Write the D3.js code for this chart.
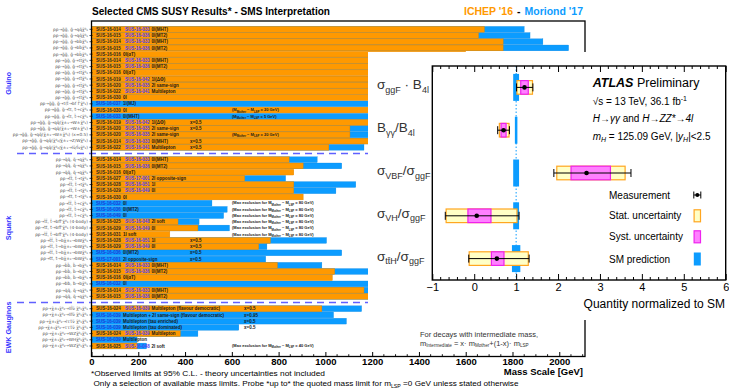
<!DOCTYPE html>
<html><head><meta charset="utf-8">
<script src="https://cdn.jsdelivr.net/npm/d3@7"></script>
<style>body{margin:0;background:#fff}svg{display:block;font-family:"Liberation Sans",Arial,Helvetica,sans-serif}</style>
</head><body><svg id="c" width="729" height="388"></svg>
<script>
// ---------------- CMS data ----------------
const sectionNames = ["Gluino", "Squark", "EWK Gauginos"];
const massTicks = [0,200,400,600,800,1000,1200,1400,1600,1800,2000];

const gluinoProc = [
 "pp→g̃g̃, g̃→qq̄χ̃⁰₁","pp→g̃g̃, g̃→qq̄χ̃⁰₁",
 "pp→g̃g̃, g̃→bb̄χ̃⁰₁","pp→g̃g̃, g̃→bb̄χ̃⁰₁","pp→g̃g̃, g̃→bb̄χ̃⁰₁",
 "pp→g̃g̃, g̃→tt̄χ̃⁰₁","pp→g̃g̃, g̃→tt̄χ̃⁰₁","pp→g̃g̃, g̃→tt̄χ̃⁰₁",
 "pp→g̃g̃, g̃→tt̄χ̃⁰₁","pp→g̃g̃, g̃→tt̄χ̃⁰₁","pp→g̃g̃, g̃→tt̄χ̃⁰₁",
 "pp→g̃g̃, g̃→tt̄χ̃⁰₁","pp→g̃g̃, g̃→t(t̃→bf f̄'χ̃⁰₁)",
 "pp→g̃g̃, g̃→t̃t, t̃→cχ̃⁰₁","pp→g̃g̃, g̃→t̃t, t̃→cχ̃⁰₁",
 "pp→g̃g̃, g̃→qq̄(χ̃±₁→W±χ̃⁰₁)","pp→g̃g̃, g̃→qq̄(χ̃±₁→W±χ̃⁰₁)",
 "pp→g̃g̃, g̃→qq̄(χ̃±₁→W±χ̃⁰₁) (x=0.5)",
 "pp→g̃g̃, g̃→qq̄(χ̃⁰₂/χ̃±₁→Z/Wχ̃⁰₁)","pp→g̃g̃, g̃→qq̄(χ̃⁰₂/χ̃±₁→lν̃/l̃νχ̃⁰₁)"
];
const gluinoCode1 = ["SUS-16-014","SUS-16-015","SUS-16-014","SUS-16-015","SUS-16-016","SUS-16-014","SUS-16-015","SUS-16-016","SUS-16-019","SUS-16-020","SUS-16-022","SUS-16-030","SUS-16-037","SUS-16-030","SUS-16-033","SUS-16-019","SUS-16-020","SUS-16-020","SUS-16-014","SUS-16-022"];
const gluinoCode2 = ["SUS-16-033","SUS-16-036","SUS-16-033","SUS-16-036","","SUS-16-033","SUS-16-036","","SUS-16-042","SUS-16-035","SUS-16-041","","","","","SUS-16-042","SUS-16-035","SUS-16-035","SUS-16-033","SUS-16-041"];
const gluinoDesc = ["0l(MHT)","0l(MT2)","0l(MHT)","0l(MT2)","0l(αT)","0l(MHT)","0l(MT2)","0l(αT)","1l(ΔΦ)","2l same-sign","Multilepton","0l","1l(MJ)","0l","0l(MHT)","1l(ΔΦ)","2l same-sign","2l same-sign","0l(MHT)","Multilepton"];
const gluinoNote = ["","","","","","","","","","","","","","dm:20","dm:5","x=0.5","x=0.5","dm:20","x=0.5","x=0.5"];
const gluinoIchep   = [1680,1655,1760,1760,1600,1760,1690,1650,1650,1300,1300,1600,null,1300,null,1500,1105,1105,1600,1015];
const gluinoMoriond = [1850,1875,1930,2040,null,1960,1960,null,1800,1500,1600,null,1900,null,1600,1700,1300,1250,1800,1165];

const squarkProc = [
 "pp→q̃q̃, q̃→qχ̃⁰₁","pp→q̃q̃, q̃→qχ̃⁰₁","pp→q̃q̃, q̃→qχ̃⁰₁",
 "pp→t̃t̃, t̃→tχ̃⁰₁","pp→t̃t̃, t̃→tχ̃⁰₁","pp→t̃t̃, t̃→tχ̃⁰₁","pp→t̃t̃, t̃→tχ̃⁰₁",
 "pp→t̃t̃, t̃→cχ̃⁰₁","pp→t̃t̃, t̃→cχ̃⁰₁","pp→t̃t̃, t̃→cχ̃⁰₁",
 "pp→t̃t̃, t̃→bff̄'χ̃⁰₁ (4-body)","pp→t̃t̃, t̃→bff̄'χ̃⁰₁ (4-body)","pp→t̃t̃, t̃→bff̄'χ̃⁰₁ (4-body)",
 "pp→t̃t̃, t̃→bχ̃±₁→bWχ̃⁰₁","pp→t̃t̃, t̃→bχ̃±₁→bWχ̃⁰₁","pp→t̃t̃, t̃→bχ̃±₁→bWχ̃⁰₁","pp→t̃t̃, t̃→bχ̃±₁→bWχ̃⁰₁",
 "pp→b̃b̃, b̃→bχ̃⁰₁","pp→b̃b̃, b̃→bχ̃⁰₁","pp→b̃b̃, b̃→bχ̃⁰₁","pp→b̃b̃, b̃→bχ̃⁰₁",
 "pp→q̃q̃, q̃→qχ̃⁰₁","pp→q̃q̃, q̃→qχ̃⁰₁"
];
const squarkCode1 = ["SUS-16-014","SUS-16-015","SUS-16-016","SUS-16-027","SUS-16-028","SUS-16-029","SUS-16-030","SUS-16-032","SUS-16-036","SUS-16-049","SUS-16-025","SUS-16-029","SUS-16-031","SUS-16-028","SUS-16-029","SUS-16-036","SUS-17-001","SUS-16-014","SUS-16-015","SUS-16-016","SUS-16-032","SUS-16-014","SUS-16-015"];
const squarkCode2 = ["SUS-16-033","SUS-16-036","","SUS-17-001","SUS-16-051","SUS-16-049","","","","","SUS-16-048","SUS-16-049","","SUS-16-051","SUS-16-049","","","SUS-16-033","SUS-16-036","","","SUS-16-033","SUS-16-036"];
const squarkDesc = ["0l(MHT)","0l(MT2)","0l(αT)","2l opposite-sign","1l","0l","0l","0l","0l(MT2)","0l","2l soft","0l","1l soft","1l","0l","0l(MT2)","2l opposite-sign","0l(MHT)","0l(MT2)","0l(αT)","0l","0l(MHT)","0l(MT2)"];
const squarkNote = ["","","","","","","","max:80","max:80","max:80","max:80","max:80","max:80","x=0.5","x=0.5","x=0.5","x=0.5","","","","","",""];
const squarkIchep   = [845,905,865,655,865,865,905,null,null,null,370,455,335,765,715,null,null,795,1040,1030,null,1165,1250];
const squarkMoriond = [965,1070,null,830,1130,1045,null,515,580,565,460,590,null,1005,750,1070,745,985,1250,null,1300,1300,1400];

const ewkProc = [
 "pp→χ̃±₁χ̃⁰₂→lll̃ν̃ χ̃⁰₁χ̃⁰₁","pp→χ̃±₁χ̃⁰₂→lll̃ν̃ χ̃⁰₁χ̃⁰₁","pp→χ̃±₁χ̃⁰₂→lττ̃ν̃ χ̃⁰₁χ̃⁰₁",
 "pp→χ̃±₁χ̃⁰₂→τττ̃ν̃ χ̃⁰₁χ̃⁰₁","pp→χ̃±₁χ̃⁰₂→WZχ̃⁰₁χ̃⁰₁","pp→χ̃±₁χ̃⁰₂→WHχ̃⁰₁χ̃⁰₁","pp→χ̃±₁χ̃⁰₂→WZχ̃⁰₁χ̃⁰₁"
];
const ewkCode1 = ["SUS-16-024","SUS-16-039","SUS-16-039","SUS-16-039","SUS-16-024","SUS-16-039","SUS-16-025"];
const ewkCode2 = ["SUS-16-039","","","","SUS-16-039","","SUS-16-048"];
const ewkDesc = ["Multilepton (flavour democratic)","Multilepton + 2l same-sign (flavour democratic)","Multilepton (tau enriched)","Multilepton (tau dominated)","Multilepton","Multilepton","2l soft"];
const ewkNote = ["x=0.5","x=0.95","x=0.5","x=0.5","","","max:40"];
const ewkIchep   = [985,null,null,null,380,null,195];
const ewkMoriond = [1155,1035,1090,630,455,195,235];

// ---------------- ATLAS data ----------------
const atlasLabels = [
 [["σ"],["ggF",1],[" · B"],["4l",1]],
 [["B"],["γγ",1],["/B"],["4l",1]],
 [["σ"],["VBF",1],["/σ"],["ggF",1]],
 [["σ"],["VH",1],["/σ"],["ggF",1]],
 [["σ"],["tt̄H",1],["/σ"],["ggF",1]]
];
const atlasValue   = [1.20, 0.70, 2.68, 0.06, 0.54];
const atlasTotalLo = [1.01, 0.56, 1.90, -0.69, -0.13];
const atlasTotalHi = [1.40, 0.84, 3.74, 1.07, 1.31];
const atlasStatLo  = [1.02, 0.60, 1.97, -0.67, -0.12];
const atlasStatHi  = [1.39, 0.83, 3.60, 1.02, 1.29];
const atlasSystLo  = [1.11, 0.64, 2.31, -0.15, 0.41];
const atlasSystHi  = [1.29, 0.76, 3.25, 0.40, 0.71];
const atlasSM      = [1, 1, 1, 1, 1];
const atlasSMUnc   = [0.07, 0.03, 0.07, 0.07, 0.10];
const atlasTicks   = [-1,0,1,2,3,4,5,6];

// ---------------- build rows ----------------
const ORANGE = "#ff9900", BLUE = "#0c9cff", CODE2 = "#4a3cf0", CODEB = "#1f3bd6";
const rows = [];
function addSection(sec, proc, c1, c2, desc, note, ich, mor) {
  proc.forEach((p, i) => rows.push({sec, proc: p, c1: c1[i], c2: c2[i], desc: desc[i], note: note[i], ichep: ich[i], moriond: mor[i]}));
}
addSection(0, gluinoProc, gluinoCode1, gluinoCode2, gluinoDesc, gluinoNote, gluinoIchep, gluinoMoriond);
rows.push({gap: true});
addSection(1, squarkProc, squarkCode1, squarkCode2, squarkDesc, squarkNote, squarkIchep, squarkMoriond);
rows.push({gap: true});
addSection(2, ewkProc, ewkCode1, ewkCode2, ewkDesc, ewkNote, ewkIchep, ewkMoriond);
rows.forEach((r, i) => r.slot = i);
const dataRows = rows.filter(r => !r.gap);

const svg = d3.select("#c");
const x = d3.scaleLinear().domain([0, 2110]).range([91.5, 585]);
const y = d3.scaleBand().domain(rows.map(r => r.slot)).range([26.2, 349.1]).padding(0);
const bw = y.bandwidth();
const cy = s => y(s) + bw / 2;

function rich(sel, parts, size, subSize, shift) {
  let off = 0;
  parts.forEach(p => {
    const isSub = p[1] === 1;
    const t = sel.append("tspan").text(p[0]).attr("font-size", isSub ? subSize : size);
    const target = isSub ? shift : 0;
    if (target !== off) { t.attr("dy", target - off); off = target; }
    if (p[2]) t.attr("font-style", "italic");
  });
  return sel;
}

// bars
const gB = svg.append("g");
gB.selectAll("rect.m").data(dataRows.filter(r => r.moriond != null)).join("rect")
  .attr("x", x(0)).attr("y", r => y(r.slot) + 0.2).attr("height", bw - 0.4)
  .attr("width", r => x(r.moriond) - x(0)).attr("fill", BLUE)
  .attr("stroke", "#0a86dc").attr("stroke-width", 0.3);
gB.selectAll("rect.i").data(dataRows.filter(r => r.ichep != null)).join("rect")
  .attr("x", x(0)).attr("y", r => y(r.slot) + 0.2).attr("height", bw - 0.4)
  .attr("width", r => x(r.ichep) - x(0)).attr("fill", ORANGE)
  .attr("stroke", "#d98300").attr("stroke-width", 0.35);

// bar texts
const gT = svg.append("g").attr("font-weight", "bold").attr("font-size", 4.5);
dataRows.forEach(r => {
  const yy = cy(r.slot) + 1.6;
  gT.append("text").attr("x", 96).attr("y", yy).attr("fill", r.ichep != null ? "#2a2a2a" : CODEB).text(r.c1);
  if (r.c2) gT.append("text").attr("x", 125).attr("y", yy).attr("fill", CODE2).text(r.c2);
  gT.append("text").attr("x", r.c2 ? 151.5 : 123).attr("y", yy).attr("fill", "#1a1a1a").text(r.desc);
  if (r.note) {
    if (r.note.startsWith("x")) {
      gT.append("text").attr("x", r.sec === 2 ? 244 : 190).attr("y", yy).attr("fill", "#1a1a1a").text(r.note);
    } else {
      const [k, v] = r.note.split(":");
      const t = gT.append("text").attr("x", 232).attr("y", yy - 0.3).attr("fill", "#1a1a1a").attr("font-size", 4);
      const pre = k === "max" ? "(Max exclusion for M" : "(M";
      rich(t, [[pre], ["Mother", 1], [" − M"], ["LSP", 1], [" = " + v + " GeV)"]], 4, 2.8, 1.2);
    }
  }
});

// left process labels and row ticks
const gL = svg.append("g");
gL.selectAll("text").data(dataRows).join("text")
  .attr("x", 88).attr("y", r => cy(r.slot) + 1.4).attr("text-anchor", "end")
  .attr("font-size", 4.3).attr("fill", "#555").attr("font-family", "DejaVu Sans").text(r => r.proc);
gL.selectAll("line").data(dataRows).join("line")
  .attr("x1", 89.5).attr("x2", 92.5).attr("y1", r => cy(r.slot)).attr("y2", r => cy(r.slot))
  .attr("stroke", "#000").attr("stroke-width", 0.7);

// section labels
const secMid = [0, 1, 2].map(s => { const rs = dataRows.filter(r => r.sec === s); return (cy(rs[0].slot) + cy(rs[rs.length - 1].slot)) / 2; });
svg.selectAll("text.sec").data(sectionNames).join("text").attr("class", "sec")
  .attr("transform", (d, i) => `translate(10.5,${secMid[i] - (i === 0 ? 5 : 0)}) rotate(-90)`)
  .attr("text-anchor", "middle").attr("font-size", 7.2).attr("font-weight", "bold").attr("fill", "#3535ff").text(d => d);

// dashed separators
svg.selectAll("line.sep").data(rows.filter(r => r.gap)).join("line").attr("class", "sep")
  .attr("x1", 17).attr("x2", 585).attr("y1", r => cy(r.slot)).attr("y2", r => cy(r.slot))
  .attr("stroke", "#6060ff").attr("stroke-width", 1.6).attr("stroke-dasharray", "7,5");

// frame
svg.append("rect").attr("x", 91.5).attr("y", 21).attr("width", 585 - 91.5).attr("height", 356.5 - 21)
  .attr("fill", "none").attr("stroke", "#000").attr("stroke-width", 1.3);

// x axis
const ax = svg.append("g").attr("transform", "translate(0,356.5)")
  .call(d3.axisBottom(x).tickValues(massTicks).tickSize(-4.5).tickPadding(2.2).tickFormat(d3.format("d")));
ax.select(".domain").remove();
ax.selectAll("text").attr("font-size", 9.5).attr("font-weight", "bold").attr("font-family", "Liberation Sans, Arial, sans-serif").attr("fill", "#000");
ax.selectAll("line").attr("stroke-width", 1);
svg.append("g").selectAll("line").data(d3.range(0, 2101, 50).filter(v => v % 200 !== 0)).join("line")
  .attr("x1", d => x(d)).attr("x2", d => x(d)).attr("y1", 356.5).attr("y2", 354.2).attr("stroke", "#000").attr("stroke-width", 0.9);

svg.append("text").attr("x", 583).attr("y", 375).attr("text-anchor", "end")
  .attr("font-size", 9.5).attr("font-weight", "bold").text("Mass Scale [GeV]");

// titles
svg.append("text").attr("x", 92).attr("y", 14.5).attr("font-size", 11).attr("font-weight", "bold")
  .attr("textLength", 238).attr("lengthAdjust", "spacingAndGlyphs").text("Selected CMS SUSY Results* - SMS Interpretation");
// release legend: three separate words, right aligned at 583
const legParts = [["Moriond '17", BLUE], ["-", "#000"], ["ICHEP '16", ORANGE]];
let lxPos = 583;
legParts.forEach(([txt, col], k) => {
  const t = svg.append("text").attr("x", lxPos).attr("y", 14.5).attr("text-anchor", "end")
    .attr("font-size", 10.5).attr("font-weight", "bold").attr("fill", col).text(txt);
  lxPos -= t.node().getComputedTextLength() + 4;
});

// footnotes
svg.append("text").attr("x", 91).attr("y", 375.5).attr("font-size", 7.8).attr("textLength", 234).attr("lengthAdjust", "spacingAndGlyphs")
  .text("*Observed limits at 95% C.L. - theory uncertainties not included");
const fn2 = svg.append("text").attr("x", 93.5).attr("y", 385.5).attr("font-size", 7.8).attr("textLength", 425).attr("lengthAdjust", "spacingAndGlyphs");
rich(fn2, [["Only a selection of available mass limits. Probe *up to* the quoted mass limit for m"], ["LSP", 1], [" =0 GeV unless stated otherwise"]], 7.8, 5, 2);

// intermediate mass note
svg.append("text").attr("x", 420).attr("y", 336.5).attr("font-size", 7.5).attr("fill", "#333").text("For decays with intermediate mass,");
const im = svg.append("text").attr("x", 420).attr("y", 345.5).attr("font-size", 7.5).attr("fill", "#333");
rich(im, [["m"], ["Intermediate", 1], [" = x· m"], ["Mother", 1], ["+(1-x)· m"], ["LSP", 1]], 7.5, 4.6, 1.8);

// ---------------- ATLAS inset ----------------
svg.append("rect").attr("x", 368).attr("y", 52).attr("width", 729 - 368).attr("height", 320 - 52).attr("fill", "#fff");

const ax2 = d3.scaleLinear().domain([-1, 6]).range([432.3, 725.7]);
const ay = d3.scaleBand().domain(d3.range(5)).range([66, 280]);
const acy = i => ay(i) + ay.bandwidth() / 2;
const A = svg.append("g");

// SM bars
A.selectAll("rect.sm").data(d3.range(5)).join("rect")
  .attr("x", i => ax2(atlasSM[i] - atlasSMUnc[i])).attr("width", i => ax2(atlasSM[i] + atlasSMUnc[i]) - ax2(atlasSM[i] - atlasSMUnc[i]))
  .attr("y", i => acy(i) - 13.5).attr("height", 27).attr("fill", BLUE);
// dotted SM line
A.append("line").attr("x1", ax2(1)).attr("x2", ax2(1)).attr("y1", 66).attr("y2", 280)
  .attr("stroke", BLUE).attr("stroke-width", 1).attr("stroke-dasharray", "1.5,2");
// stat boxes
A.selectAll("rect.st").data(d3.range(5)).join("rect")
  .attr("x", i => ax2(atlasStatLo[i])).attr("width", i => ax2(atlasStatHi[i]) - ax2(atlasStatLo[i]))
  .attr("y", i => acy(i) - 6.8).attr("height", 13.6).attr("fill", "#ffffc6").attr("stroke", "#ffa620").attr("stroke-width", 1.2);
// syst boxes
A.selectAll("rect.sy").data(d3.range(5)).join("rect")
  .attr("x", i => ax2(atlasSystLo[i])).attr("width", i => ax2(atlasSystHi[i]) - ax2(atlasSystLo[i]))
  .attr("y", i => acy(i) - 6.8).attr("height", 13.6).attr("fill", "#ff80ff").attr("stroke", "#ee22ee").attr("stroke-width", 1.2);
// error bars
d3.range(5).forEach(i => {
  const yy = acy(i);
  A.append("line").attr("x1", ax2(atlasTotalLo[i])).attr("x2", ax2(atlasTotalHi[i])).attr("y1", yy).attr("y2", yy).attr("stroke", "#000").attr("stroke-width", 1);
  [atlasTotalLo[i], atlasTotalHi[i]].forEach(v => A.append("line").attr("x1", ax2(v)).attr("x2", ax2(v)).attr("y1", yy - 4).attr("y2", yy + 4).attr("stroke", "#000").attr("stroke-width", 1));
  A.append("circle").attr("cx", ax2(atlasValue[i])).attr("cy", yy).attr("r", 2.3).attr("fill", "#000");
});
// frame
A.append("rect").attr("x", 432.3).attr("y", 66).attr("width", 725.7 - 432.3).attr("height", 214)
  .attr("fill", "none").attr("stroke", "#000").attr("stroke-width", 1.4);
// axes
const ab = A.append("g").attr("transform", "translate(0,280)")
  .call(d3.axisBottom(ax2).tickValues(atlasTicks).tickSize(-6).tickPadding(3).tickFormat(d3.format("d")));
ab.select(".domain").remove();
ab.selectAll("text").attr("font-size", 11).attr("font-family", "Liberation Sans, Arial, sans-serif").attr("fill", "#000");
const at = A.append("g").attr("transform", "translate(0,66)")
  .call(d3.axisTop(ax2).tickValues(atlasTicks).tickSize(-6).tickFormat(""));
at.select(".domain").remove();
const minor = d3.range(-1, 6.001, 0.2).map(v => +v.toFixed(2)).filter(v => Math.abs(v - Math.round(v)) > 1e-6);
A.selectAll("line.mb").data(minor).join("line").attr("x1", d => ax2(d)).attr("x2", d => ax2(d)).attr("y1", 280).attr("y2", 277).attr("stroke", "#000");
A.selectAll("line.mt").data(minor).join("line").attr("x1", d => ax2(d)).attr("x2", d => ax2(d)).attr("y1", 66).attr("y2", 69).attr("stroke", "#000");

A.append("text").attr("x", 725).attr("y", 308).attr("text-anchor", "end").attr("font-size", 12).text("Quantity normalized to SM");

// row labels
atlasLabels.forEach((parts, i) => {
  const t = A.append("text").attr("x", 377).attr("y", acy(i) + 2).attr("fill", "#333");
  rich(t, parts, 13.5, 9, 3.5);
});

// ATLAS texts
const t1 = A.append("text").attr("x", 592.7).attr("y", 87).attr("font-size", 12.5);
t1.append("tspan").attr("font-weight", "bold").attr("font-style", "italic").text("ATLAS");
t1.append("tspan").text(" Preliminary");
const t2 = A.append("text").attr("x", 592.7).attr("y", 104.5).attr("font-size", 10);
t2.append("tspan").text("√s = 13 TeV, 36.1 fb");
t2.append("tspan").attr("font-size", 7).attr("dy", -4).text("-1");
const t3 = A.append("text").attr("x", 592.7).attr("y", 121.5).attr("font-size", 10);
t3.append("tspan").attr("font-style", "italic").text("H→γγ");
t3.append("tspan").text(" and ");
t3.append("tspan").attr("font-style", "italic").text("H→ZZ*→4l");
const t4 = A.append("text").attr("x", 592.7).attr("y", 139.5).attr("font-size", 10);
rich(t4, [["m", 0, 1], ["H", 1, 1], [" = 125.09 GeV, |"], ["y", 0, 1], ["H", 1, 1], ["|<2.5"]], 10, 7, 2.5);

// legend
const legY = [195, 215.8, 236.8, 259];
const legT = ["Measurement", "Stat. uncertainty", "Syst. uncertainty", "SM prediction"];
A.selectAll("text.lg").data(legT).join("text").attr("x", 609).attr("y", (d, i) => legY[i] + 3.5).attr("font-size", 10).text(d => d);
const lx = 697.3;
A.append("line").attr("x1", lx - 3.5).attr("x2", lx + 3.5).attr("y1", legY[0]).attr("y2", legY[0]).attr("stroke", "#000");
[lx - 3.5, lx + 3.5].forEach(v => A.append("line").attr("x1", v).attr("x2", v).attr("y1", legY[0] - 3.5).attr("y2", legY[0] + 3.5).attr("stroke", "#000"));
A.append("circle").attr("cx", lx).attr("cy", legY[0]).attr("r", 2).attr("fill", "#000");
A.append("rect").attr("x", lx - 3.2).attr("y", legY[1] - 6).attr("width", 6.4).attr("height", 12).attr("fill", "#ffffc6").attr("stroke", "#ffa620").attr("stroke-width", 1.2);
A.append("rect").attr("x", lx - 3.2).attr("y", legY[2] - 6).attr("width", 6.4).attr("height", 12).attr("fill", "#ff80ff").attr("stroke", "#ee22ee").attr("stroke-width", 1.2);
A.append("rect").attr("x", lx - 3.5).attr("y", legY[3] - 6.5).attr("width", 7).attr("height", 13).attr("fill", BLUE);
</script></body></html>
